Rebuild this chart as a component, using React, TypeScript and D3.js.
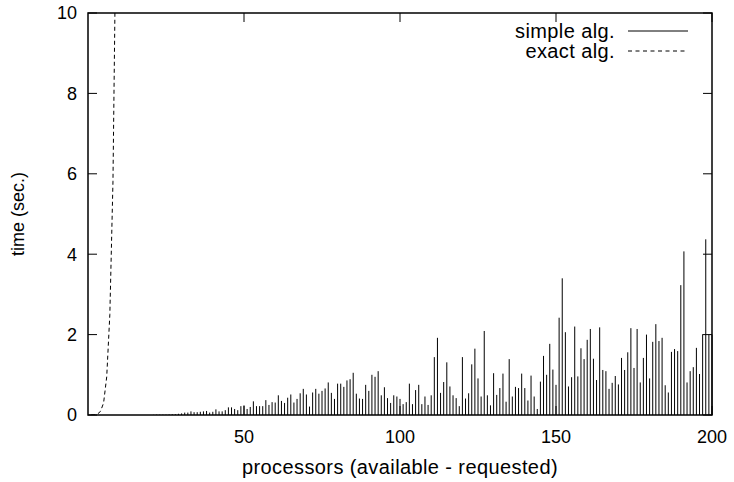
import React from 'react';
import * as d3 from 'd3';

// simple algorithm: one time per processor count, 21..200
const simpleProcs = d3.range(21, 201);
const simpleTimes = [
  0.005, 0.01, 0.01, 0.01, 0.01, 0.015, 0.02, 0.02, 0.03, 0.04,
  0.06, 0.06, 0.09, 0.07, 0.07, 0.08, 0.09, 0.1, 0.06, 0.08,
  0.14, 0.09, 0.09, 0.12, 0.19, 0.19, 0.15, 0.12, 0.22, 0.24,
  0.15, 0.2, 0.34, 0.22, 0.22, 0.22, 0.37, 0.25, 0.32, 0.31,
  0.49, 0.35, 0.3, 0.43, 0.51, 0.31, 0.4, 0.54, 0.65, 0.51,
  0.21, 0.56, 0.65, 0.53, 0.6, 0.66, 0.81, 0.55, 0.4, 0.78,
  0.78, 0.7, 0.86, 0.89, 1.05, 0.53, 0.41, 0.4, 0.75, 0.6,
  1.0, 0.95, 1.09, 0.49, 0.69, 0.42, 0.3, 0.49, 0.46, 0.4,
  0.27, 0.32, 0.78, 0.27, 0.62, 0.75, 0.27, 0.46, 0.25, 0.49,
  1.44, 1.92, 0.55, 0.82, 1.31, 0.71, 0.49, 0.42, 0.22, 1.44,
  0.41, 0.54, 1.26, 1.65, 0.91, 0.46, 2.09, 0.49, 0.24, 1.04,
  0.5, 0.67, 1.03, 0.33, 1.39, 0.46, 0.7, 0.67, 1.03, 0.67,
  0.36, 0.98, 0.46, 0.15, 0.83, 1.47, 1.0, 1.77, 1.13, 0.75,
  2.42, 3.4, 2.06, 0.71, 0.94, 2.2, 0.96, 1.66, 1.39, 1.87,
  2.14, 1.4, 0.87, 2.18, 1.12, 1.09, 0.65, 0.8, 0.97, 0.76,
  1.42, 1.12, 1.56, 2.16, 1.17, 2.14, 0.81, 1.42, 2.0, 0.91,
  1.82, 2.26, 1.84, 1.92, 0.74, 0.56, 1.57, 1.64, 1.59, 3.23,
  4.07, 0.81, 1.09, 1.19, 1.67, 1.02, 2.01, 4.37, 2.0, 2.0,
];

// exact algorithm: blows up after a handful of processors
const exactProcs = [1, 2, 3, 4, 5, 6, 7, 8, 9];
const exactTimes = [0, 0.002, 0.02, 0.09, 0.3, 0.95, 2.5, 5.8, 12.5];

const xTicks = [50, 100, 150, 200];
const yTicks = [0, 2, 4, 6, 8, 10];
const legendLabels = ['simple alg.', 'exact alg.'];

const width = 734;
const height = 482;
const margin = { top: 13, right: 22, bottom: 67, left: 88 };
const font = 'Liberation Sans, Arial, Helvetica, sans-serif';
const fs = 18; // tick numbers, y title
const labelFs = 20; // x title and legend
const spacing = 0.4;
const tickLen = 9;

const App = () => {
  const x = d3.scaleLinear([0, 200], [margin.left, width - margin.right]);
  const y = d3.scaleLinear([0, 10], [height - margin.bottom, margin.top]);

  const exactLine = d3.line<number>()
    .x((d, i) => x(exactProcs[i]))
    .y(d => y(d));

  const [x0, x1] = x.range();
  const [y0, y1] = y.range();

  return (
    <svg width={width} height={height}
      style={{ position: 'absolute', left: 0, top: 0, background: '#fff' }}
      fontFamily={font} fontSize={fs}>
      <defs>
        <clipPath id="plot">
          <rect x={x0} y={y1} width={x1 - x0} height={y0 - y1} />
        </clipPath>
      </defs>

      {/* impulses */}
      <g stroke="#000" strokeWidth={1}>
        {simpleTimes.map((t, i) => (
          <line key={i} x1={x(simpleProcs[i])} x2={x(simpleProcs[i])} y1={y(0)} y2={y(t)} />
        ))}
      </g>

      <path d={exactLine(exactTimes) ?? ''} fill="none" stroke="#000" strokeWidth={1}
        strokeDasharray="4,3" clipPath="url(#plot)" />

      {/* ticks, mirrored on all four sides */}
      <g stroke="#000" strokeWidth={1}>
        {yTicks.map(t => (
          <g key={t}>
            <line x1={x0} x2={x0 + tickLen} y1={y(t)} y2={y(t)} />
            <line x1={x1} x2={x1 - tickLen} y1={y(t)} y2={y(t)} />
          </g>
        ))}
        {xTicks.map(t => (
          <g key={t}>
            <line x1={x(t)} x2={x(t)} y1={y0} y2={y0 - tickLen} />
            <line x1={x(t)} x2={x(t)} y1={y1} y2={y1 + tickLen} />
          </g>
        ))}
      </g>

      <rect x={x0} y={y1} width={x1 - x0} height={y0 - y1} fill="none" stroke="#000" strokeWidth={1.5} />

      {yTicks.map(t => (
        <text key={t} x={x0 - 11} y={y(t)} dy="0.35em" textAnchor="end">{t}</text>
      ))}
      {xTicks.map(t => (
        <text key={t} x={x(t)} y={y0 + 22} dy="0.35em" textAnchor="middle">{t}</text>
      ))}

      <text transform={`translate(18,${(y0 + y1) / 2}) rotate(-90)`} dy="0.35em" textAnchor="middle">time (sec.)</text>

      <g fontSize={labelFs} letterSpacing={spacing}>
        <text x={(x0 + x1) / 2} y={467} dy="0.35em" textAnchor="middle">processors (available - requested)</text>

        {/* legend */}
        {legendLabels.map((l, i) => (
          <g key={l}>
            <text x={615} y={31 + i * 20} dy="0.35em" textAnchor="end">{l}</text>
            <line x1={628} x2={688} y1={31 + i * 20} y2={31 + i * 20} stroke="#000" strokeWidth={1}
              strokeDasharray={i === 1 ? '4,3.5' : undefined} />
          </g>
        ))}
      </g>
    </svg>
  );
};

export default App;
